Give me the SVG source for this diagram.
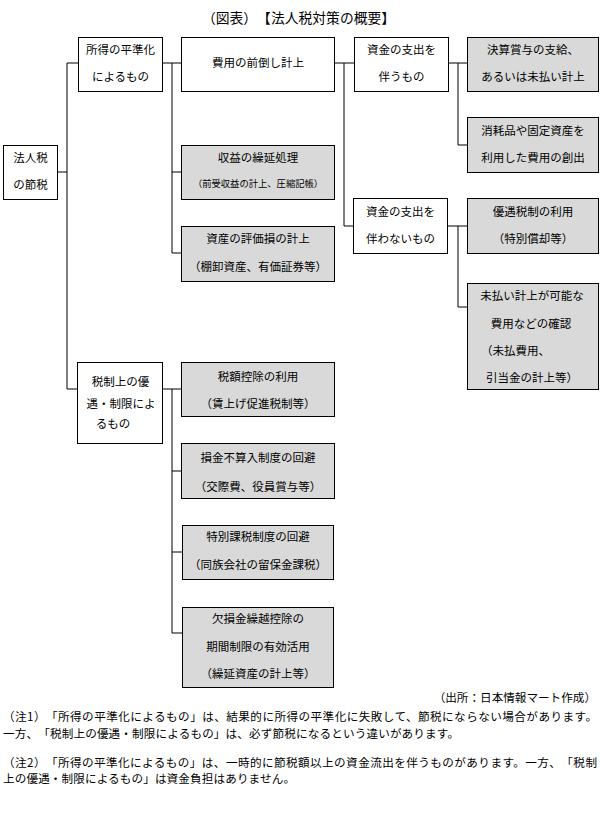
<svg xmlns="http://www.w3.org/2000/svg" width="600" height="824" viewBox="0 0 600 824">
<style>
text{font-family:"Noto Sans CJK JP","Noto Sans CJK SC",sans-serif;fill:#000;text-spacing-trim:space-all}
.t{font-size:11.5px;text-anchor:middle}
.s{font-size:9.3px;text-anchor:middle}
.b rect{stroke:#000;stroke-width:1}
.w{fill:#fff}
.g{fill:#d9d9d9}
.n{font-size:11.6px}
#conn line{stroke:#000;stroke-width:1}
</style>
<rect width="600" height="824" fill="#fff"/>
<text x="298.5" y="22.5" style="font-size:13.8px;text-anchor:middle">（図表）【法人税対策の概要】</text>

<g id="conn">
<line x1="57" y1="172" x2="67" y2="172"/>
<line x1="67" y1="63" x2="67" y2="389"/>
<line x1="67" y1="63" x2="78" y2="63"/>
<line x1="67" y1="389" x2="77" y2="389"/>
<line x1="162" y1="63" x2="181" y2="63"/>
<line x1="172" y1="63" x2="172" y2="253"/>
<line x1="172" y1="172" x2="181" y2="172"/>
<line x1="172" y1="253" x2="181" y2="253"/>
<line x1="334" y1="63" x2="354" y2="63"/>
<line x1="344" y1="63" x2="344" y2="226"/>
<line x1="344" y1="226" x2="353" y2="226"/>
<line x1="448" y1="63" x2="467" y2="63"/>
<line x1="458" y1="63" x2="458" y2="145"/>
<line x1="458" y1="145" x2="467" y2="145"/>
<line x1="447" y1="226" x2="467" y2="226"/>
<line x1="458" y1="226" x2="458" y2="307"/>
<line x1="458" y1="307" x2="467" y2="307"/>
<line x1="162" y1="389" x2="181" y2="389"/>
<line x1="172" y1="389" x2="172" y2="633"/>
<line x1="172" y1="471" x2="181" y2="471"/>
<line x1="172" y1="552" x2="182" y2="552"/>
<line x1="172" y1="633" x2="182" y2="633"/>
</g>

<g id="root" class="b"><rect class="w" x="3.5" y="145.5" width="54" height="54"/>
<text class="t" x="30.5" y="162">法人税</text><text class="t" x="30.5" y="189">の節税</text></g>

<g id="heijunka" class="b"><rect class="w" x="78.5" y="37.5" width="84" height="54"/>
<text class="t" x="120.5" y="54">所得の平準化</text><text class="t" x="120.5" y="81">によるもの</text></g>

<g id="maedaoshi" class="b"><rect class="w" x="181.5" y="37.5" width="153" height="54"/>
<text class="t" x="258" y="67">費用の前倒し計上</text></g>

<g id="kurinobe" class="b"><rect class="g" x="181.5" y="145.5" width="153" height="54"/>
<text class="t" x="258" y="162">収益の繰延処理</text><text class="s" x="258" y="186.5">（前受収益の計上、圧縮記帳）</text></g>

<g id="hyokason" class="b"><rect class="g" x="181.5" y="226.5" width="153" height="55"/>
<text class="t" x="258" y="243">資産の評価損の計上</text><text class="t" x="258" y="271">（棚卸資産、有価証券等）</text></g>

<g id="shishutsu" class="b"><rect class="w" x="354.5" y="37.5" width="94" height="54"/>
<text class="t" x="401.5" y="54">資金の支出を</text><text class="t" x="401.5" y="81">伴うもの</text></g>

<g id="shoyo" class="b"><rect class="g" x="467.5" y="37.5" width="131" height="54"/>
<text class="t" x="533" y="54">決算賞与の支給、</text><text class="t" x="533" y="81">あるいは未払い計上</text></g>

<g id="shomohin" class="b"><rect class="g" x="467.5" y="117.5" width="131" height="55"/>
<text class="t" x="533" y="135">消耗品や固定資産を</text><text class="t" x="533" y="162">利用した費用の創出</text></g>

<g id="noshishutsu" class="b"><rect class="w" x="353.5" y="198.5" width="94" height="55"/>
<text class="t" x="400.5" y="216">資金の支出を</text><text class="t" x="400.5" y="243">伴わないもの</text></g>

<g id="yugu" class="b"><rect class="g" x="467.5" y="198.5" width="131" height="55"/>
<text class="t" x="533" y="216">優遇税制の利用</text><text class="t" x="533" y="243">（特別償却等）</text></g>

<g id="miharai" class="b"><rect class="g" x="467.5" y="283.5" width="131" height="106"/>
<text class="t" x="532" y="300">未払い計上が可能な</text><text class="t" x="531" y="328">費用などの確認</text>
<text x="481" y="355" style="font-size:11.5px">（未払費用、</text><text x="486" y="382" style="font-size:11.5px">引当金の計上等）</text></g>

<g id="zeisei" class="b"><rect class="w" x="77.5" y="362.5" width="85" height="81"/>
<text class="t" x="120.5" y="386">税制上の優</text><text class="t" x="121" y="408">遇・制限によ</text><text class="t" x="113" y="428">るもの</text></g>

<g id="kojo" class="b"><rect class="g" x="181.5" y="362.5" width="153" height="54"/>
<text class="t" x="258" y="381">税額控除の利用</text><text class="t" x="258" y="408">（賃上げ促進税制等）</text></g>

<g id="sonkin" class="b"><rect class="g" x="181.5" y="443.5" width="153" height="55"/>
<text class="t" x="258" y="462">損金不算入制度の回避</text><text class="t" x="258" y="491">（交際費、役員賞与等）</text></g>

<g id="tokubetsu" class="b"><rect class="g" x="182.5" y="525.5" width="151" height="54"/>
<text class="t" x="258" y="541">特別課税制度の回避</text><text class="t" x="258" y="569">（同族会社の留保金課税）</text></g>

<g id="kesson" class="b"><rect class="g" x="182.5" y="607.5" width="151" height="80"/>
<text class="t" x="258" y="623">欠損金繰越控除の</text><text class="t" x="258" y="651">期間制限の有効活用</text><text class="t" x="258" y="678">（繰延資産の計上等）</text></g>

<text class="n" x="596" y="702" style="text-anchor:end">（出所：日本情報マート作成）</text>
<text class="n" x="3" y="721" textLength="594" lengthAdjust="spacing">（注1）「所得の平準化によるもの」は、結果的に所得の平準化に失敗して、節税にならない場合があります。</text>
<text class="n" x="3" y="738" textLength="456" lengthAdjust="spacing">一方、「税制上の優遇・制限によるもの」は、必ず節税になるという違いがあります。</text>
<text class="n" x="3" y="767" textLength="594" lengthAdjust="spacing">（注2）「所得の平準化によるもの」は、一時的に節税額以上の資金流出を伴うものがあります。一方、「税制</text>
<text class="n" x="3" y="783" textLength="292" lengthAdjust="spacing">上の優遇・制限によるもの」は資金負担はありません。</text>
</svg>
